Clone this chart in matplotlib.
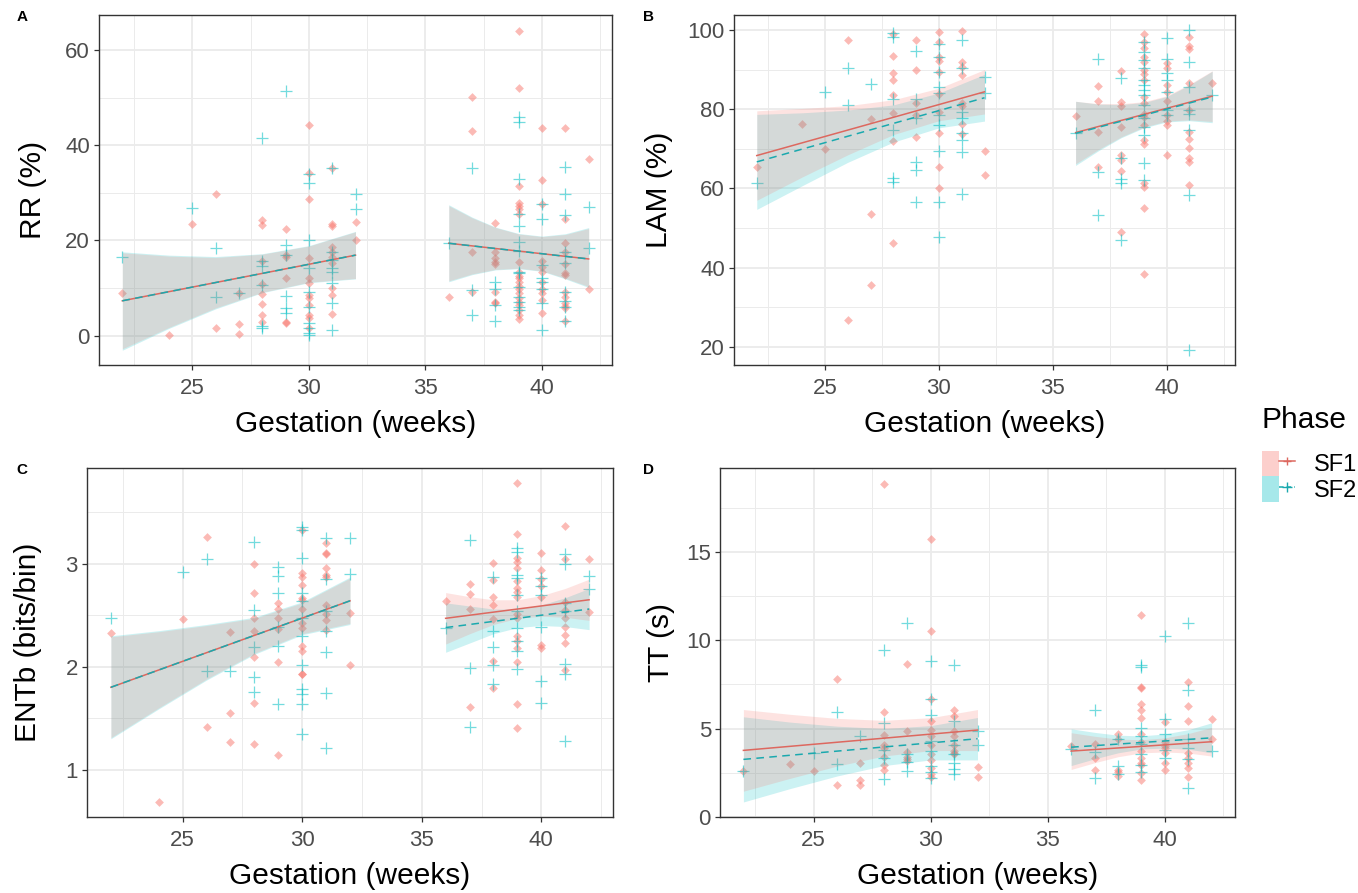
import numpy as np
import matplotlib
matplotlib.use("Agg")
import matplotlib.pyplot as plt
from matplotlib.lines import Line2D
from matplotlib.patches import Patch
from matplotlib.legend_handler import HandlerTuple
from matplotlib.ticker import MultipleLocator, AutoMinorLocator

RED = "#F8766D"
TEAL = "#00BFC4"
RED_LINE = "#DD685F"
TEAL_LINE = "#1AA9AE"

EARLY_WEEKS = [22, 24, 26, 28, 30, 32]
LATE_WEEKS = [36, 37, 38, 39, 40, 41, 42]

# ---- A: RR (%) ----
RR_SF1 = {22: [9.0], 24: [0.1], 25: [23.4], 26: [29.7, 1.5], 27: [8.9, 2.4, 0.3],
          28: [24.3, 23.2, 15.7, 10.8, 8.7, 6.6, 4.3, 2.9],
          29: [22.3, 16.9, 16.6, 12.0, 2.9, 2.6],
          30: [44.3, 34.2, 28.7, 16.4, 12.0, 11.0, 8.5, 7.8, 6.4, 4.3, 3.6, 1.5],
          31: [35.2, 23.4, 23.0, 18.7, 17.6, 16.6, 15.2, 9.9, 8.5, 4.5],
          32: [23.8, 20.0],
          36: [8.0], 37: [50.1, 43.1, 17.5, 9.1],
          38: [23.6, 17.5, 16.4, 15.5, 15.0, 9.1, 7.0, 6.8],
          39: [64.0, 52.1, 31.5, 27.8, 27.3, 26.7, 25.5, 15.5, 13.4, 12.6, 12.0, 11.3,
               10.5, 9.8, 8.9, 7.8, 7.0, 6.4, 5.4, 4.3, 3.5],
          40: [43.7, 32.7, 27.6, 15.7, 14.5, 13.4, 11.3, 9.8, 8.9, 7.5, 4.7],
          41: [43.7, 24.5, 19.5, 17.5, 15.0, 13.1, 12.7, 9.1, 8.0, 6.8, 6.3, 5.7, 3.1],
          42: [37.1, 9.8]}
RR_SF2 = {22: [16.6], 25: [26.9], 26: [18.5, 8.0], 27: [8.9],
          28: [41.5, 15.7, 14.7, 10.6, 1.9, 1.5],
          29: [51.4, 19.0, 16.9, 8.3, 5.7, 4.8],
          30: [33.9, 32.1, 20.1, 14.1, 9.2, 6.1, 2.6, 1.5, 0.5, 0.1],
          31: [35.2, 17.5, 15.9, 14.1, 13.4, 11.0, 6.8, 1.2],
          32: [29.7, 26.6],
          36: [19.4], 37: [35.3, 9.6, 4.3], 38: [11.3, 9.8, 6.4, 3.1],
          39: [45.9, 44.8, 33.0, 25.5, 23.1, 19.7, 17.8, 13.4, 13.1, 10.3, 8.2, 7.1, 6.1, 5.4],
          40: [27.6, 24.5, 14.8, 12.0, 11.3, 9.8, 6.8, 1.2],
          41: [35.5, 29.7, 25.3, 17.5, 15.2, 9.2, 7.3, 6.1, 3.1],
          42: [27.1, 18.5]}
# smooth: (fit, lower, upper)
RR_SF1_SMOOTH = {
    "early": ([7.3, 9.2, 11.1, 13.1, 15.0, 16.9],
              [-2.8, 1.7, 5.8, 9.1, 11.2, 12.0],
              [17.4, 16.7, 16.4, 17.1, 18.8, 21.8]),
    "late": ([19.4, 18.85, 18.3, 17.75, 17.2, 16.65, 16.1],
             [11.5, 12.95, 13.9, 14.15, 13.6, 12.05, 10.3],
             [27.3, 24.75, 22.7, 21.35, 20.8, 21.25, 22.5]),
}
RR_SF2_SMOOTH = {
    "early": ([7.3, 9.2, 11.1, 13.1, 15.0, 16.9],
              [-3.1, 1.5, 5.6, 9.0, 11.1, 11.9],
              [17.6, 16.9, 16.6, 17.2, 18.9, 21.9]),
    "late": ([19.4, 18.85, 18.3, 17.75, 17.2, 16.65, 16.1],
             [11.3, 12.8, 13.8, 14.05, 13.5, 11.9, 10.1],
             [27.5, 24.9, 22.8, 21.45, 20.9, 21.4, 22.7]),
}

# ---- B: LAM (%) ----
LAM_SF1 = {22: [65.5], 24: [76.2], 25: [69.9], 26: [97.5, 26.7], 27: [77.5, 53.5, 35.7],
           28: [98.9, 93.4, 89.1, 87.5, 83.7, 79.1, 72.0, 46.3],
           29: [97.5, 89.9, 81.5, 78.5, 73.1],
           30: [99.6, 96.9, 93.3, 92.3, 89.3, 83.8, 79.4, 73.9, 65.5, 60.0],
           31: [99.8, 92.0, 90.7, 88.6, 81.5, 80.9, 76.2, 73.7],
           32: [69.5, 63.4],
           36: [78.4], 37: [85.9, 82.1, 74.3, 65.5],
           38: [89.7, 81.7, 80.9, 75.6, 68.4, 67.2, 64.5, 49.1],
           39: [99.0, 97.1, 95.4, 93.3, 92.0, 89.9, 88.8, 87.4, 83.2, 81.5, 78.9, 78.1,
                76.0, 72.2, 71.1, 61.3, 60.4, 55.1, 38.3],
           40: [91.6, 90.5, 86.1, 84.4, 82.1, 78.5, 77.0, 76.0, 68.4],
           41: [98.3, 96.0, 95.1, 86.5, 79.8, 74.3, 72.5, 70.1, 67.6, 66.6, 60.8],
           42: [86.7]}
LAM_SF2 = {22: [61.3], 25: [84.3], 26: [90.3, 81.1], 27: [86.3],
           28: [99.2, 98.3, 82.7, 74.7, 62.7, 61.7],
           29: [94.7, 82.7, 77.7, 66.7, 64.6, 56.6],
           30: [96.6, 93.3, 89.5, 85.7, 84.0, 78.5, 76.0, 69.4, 56.6, 47.8],
           31: [97.5, 90.3, 79.4, 77.7, 73.9, 72.2, 69.3, 58.6],
           32: [88.2, 84.0],
           36: [74.1], 37: [92.8, 64.2, 53.3], 38: [87.8, 67.6, 62.5, 61.3, 47.0],
           39: [97.1, 94.5, 92.4, 90.3, 87.4, 86.1, 84.8, 83.6, 81.1, 77.7, 75.6, 73.5, 66.3, 62.1],
           40: [98.1, 92.8, 89.1, 87.4, 84.4, 79.8, 78.5],
           41: [100.0, 92.0, 85.7, 79.8, 78.9, 74.7, 58.3, 19.2],
           42: [83.6]}
LAM_SF1_SMOOTH = {
    "early": ([68.3, 71.5, 74.7, 78.0, 81.2, 84.4],
              [57.0, 62.9, 68.5, 73.6, 77.1, 78.8],
              [79.6, 80.2, 80.9, 82.4, 85.3, 90.0]),
    "late": ([74.1, 75.6, 77.2, 78.7, 80.2, 81.8, 83.3],
             [66.2, 69.8, 73.0, 75.5, 77.0, 77.3, 76.9],
             [82.0, 81.4, 81.4, 81.9, 83.4, 86.3, 89.7]),
}
LAM_SF2_SMOOTH = {
    "early": ([66.7, 69.9, 73.2, 76.4, 79.7, 82.9],
              [54.7, 60.7, 66.6, 71.7, 75.3, 77.0],
              [78.7, 79.1, 79.8, 81.1, 84.1, 88.8]),
    "late": ([73.9, 75.4, 77.0, 78.5, 80.0, 81.6, 83.1],
             [65.8, 69.5, 72.8, 75.3, 76.8, 77.1, 76.6],
             [82.0, 81.3, 81.2, 81.7, 83.2, 86.1, 89.6]),
}

# ---- C: ENTb (bits/bin) ----
ENT_SF1 = {22: [2.33], 24: [0.69], 25: [2.46], 26: [3.26, 1.41], 27: [2.34, 1.55, 1.27],
           28: [3.00, 2.72, 2.47, 2.35, 2.09, 1.65, 1.25],
           29: [2.62, 2.56, 2.47, 2.37, 2.05, 1.14],
           30: [3.33, 2.91, 2.87, 2.79, 2.67, 2.65, 2.56, 2.42, 2.38, 2.20, 2.15, 1.93, 1.93],
           31: [3.20, 3.10, 3.09, 2.96, 2.89, 2.87, 2.60, 2.51, 2.45, 2.36],
           32: [2.52, 2.02],
           36: [2.64], 37: [2.80, 2.71, 2.56, 1.61],
           38: [3.01, 2.84, 2.68, 2.60, 2.46, 2.06, 1.79],
           39: [3.78, 3.29, 3.06, 3.02, 2.96, 2.83, 2.76, 2.73, 2.68, 2.51, 2.47, 2.30,
                2.25, 2.18, 2.05, 1.64, 1.40],
           40: [3.10, 2.94, 2.85, 2.78, 2.68, 2.21, 2.18],
           41: [3.37, 3.05, 2.63, 2.55, 2.47, 2.39, 2.31, 2.23, 1.97],
           42: [3.05, 2.53]}
ENT_SF2 = {22: [2.47], 25: [2.92], 26: [3.05, 1.96], 27: [1.96],
           28: [3.21, 2.55, 2.19, 1.90, 1.75],
           29: [2.97, 2.88, 2.72, 2.39, 2.20, 1.64],
           30: [3.36, 3.33, 3.06, 2.72, 2.64, 2.47, 2.30, 2.02, 1.78, 1.73, 1.64, 1.35],
           31: [3.25, 2.85, 2.54, 2.35, 2.14, 1.74, 1.21],
           32: [3.25, 2.90],
           36: [2.38], 37: [3.23, 1.99, 1.41], 38: [2.87, 2.35, 2.19, 2.02, 1.83],
           39: [3.15, 3.11, 2.89, 2.86, 2.70, 2.54, 2.38, 2.25, 2.15, 1.98],
           40: [2.86, 2.78, 2.70, 2.39, 1.86, 1.65],
           41: [3.09, 3.00, 2.62, 2.54, 2.03, 1.93, 1.28],
           42: [2.88, 2.75]}
ENT_SF1_SMOOTH = {
    "early": ([1.80, 1.97, 2.14, 2.30, 2.47, 2.64],
              [1.31, 1.60, 1.88, 2.13, 2.32, 2.42],
              [2.29, 2.34, 2.40, 2.47, 2.62, 2.86]),
    "late": ([2.47, 2.50, 2.53, 2.56, 2.59, 2.62, 2.65],
             [2.22, 2.32, 2.41, 2.47, 2.49, 2.48, 2.45],
             [2.72, 2.68, 2.65, 2.65, 2.69, 2.76, 2.85]),
}
ENT_SF2_SMOOTH = {
    "early": ([1.80, 1.97, 2.14, 2.30, 2.47, 2.64],
              [1.30, 1.59, 1.87, 2.12, 2.31, 2.41],
              [2.30, 2.35, 2.41, 2.48, 2.63, 2.87]),
    "late": ([2.38, 2.41, 2.44, 2.47, 2.50, 2.53, 2.56],
             [2.14, 2.23, 2.32, 2.38, 2.40, 2.39, 2.36],
             [2.62, 2.59, 2.56, 2.56, 2.60, 2.67, 2.76]),
}

# ---- D: TT (s) ----
TT_SF1 = {22: [2.60], 24: [2.98], 25: [2.60], 26: [7.83, 1.79], 27: [3.07, 2.07, 1.79],
          28: [18.85, 5.95, 4.63, 4.07, 3.88, 3.41, 2.94, 2.66],
          29: [8.68, 4.86, 3.69, 3.39, 3.31, 3.16],
          30: [15.72, 10.51, 6.65, 5.46, 4.92, 4.58, 4.07, 3.54, 3.20, 2.79, 2.41, 2.26],
          31: [6.03, 5.71, 4.86, 4.58, 4.07, 3.73, 3.64, 3.54],
          32: [2.82, 2.28],
          36: [4.01], 37: [4.11, 3.35, 2.67], 38: [4.71, 4.39, 2.64, 2.56, 2.32],
          39: [11.41, 7.34, 7.31, 6.40, 6.08, 5.61, 4.67, 4.26, 3.73, 3.35, 3.07, 2.94, 2.50, 2.07],
          40: [5.39, 4.24, 4.01, 3.92, 3.63, 3.07, 2.64],
          41: [7.65, 6.27, 5.46, 3.63, 3.35, 3.07, 2.75, 2.26],
          42: [5.57, 4.43]}
TT_SF2 = {22: [2.60], 25: [3.63], 26: [5.95, 2.98], 27: [4.58],
          28: [9.47, 5.33, 3.77, 3.35, 2.13],
          29: [10.98, 3.54, 3.11, 2.60],
          30: [8.85, 6.65, 5.80, 4.29, 3.73, 2.88, 2.56, 2.22],
          31: [8.63, 5.42, 4.07, 3.54, 3.07, 2.69, 2.41],
          32: [4.86, 4.07],
          36: [3.82], 37: [6.05, 3.69, 2.22], 38: [4.39, 2.88, 2.41],
          39: [8.63, 8.47, 5.05, 4.58, 4.14, 3.54, 2.94, 2.56],
          40: [10.23, 5.52, 4.67, 3.77, 3.35],
          41: [10.98, 7.21, 4.39, 3.88, 3.31, 1.66],
          42: [3.73]}
TT_SF1_SMOOTH = {
    "early": ([3.77, 4.00, 4.23, 4.46, 4.69, 4.92],
              [1.46, 2.19, 2.88, 3.45, 3.76, 3.76],
              [6.08, 5.81, 5.58, 5.47, 5.62, 6.08]),
    "late": ([3.73, 3.82, 3.91, 4.00, 4.08, 4.17, 4.26],
             [2.69, 3.07, 3.41, 3.63, 3.68, 3.62, 3.45],
             [4.77, 4.57, 4.41, 4.37, 4.48, 4.72, 5.07]),
}
TT_SF2_SMOOTH = {
    "early": ([3.26, 3.49, 3.73, 3.96, 4.20, 4.43],
              [0.85, 1.61, 2.32, 2.91, 3.23, 3.23],
              [5.67, 5.37, 5.14, 5.01, 5.17, 5.63]),
    "late": ([3.95, 4.04, 4.13, 4.22, 4.30, 4.39, 4.48],
             [2.91, 3.29, 3.63, 3.85, 3.90, 3.84, 3.63],
             [4.99, 4.79, 4.63, 4.59, 4.70, 4.94, 5.33]),
}

PANELS = [
    ("A", "RR (%)", RR_SF1, RR_SF2, RR_SF1_SMOOTH, RR_SF2_SMOOTH, (-6.2, 67.4), 20),
    ("B", "LAM (%)", LAM_SF1, LAM_SF2, LAM_SF1_SMOOTH, LAM_SF2_SMOOTH, (15.4, 103.8), 20),
    ("C", "ENTb (bits/bin)", ENT_SF1, ENT_SF2, ENT_SF1_SMOOTH, ENT_SF2_SMOOTH, (0.54, 3.93), 1),
    ("D", "TT (s)", TT_SF1, TT_SF2, TT_SF1_SMOOTH, TT_SF2_SMOOTH, (0.0, 19.75), 5),
]

# axes rectangles in pixels: left, top, right, bottom
W, H = 1358, 893
BOXES = [(99, 15, 612, 365), (734, 15, 1235, 365), (87, 468, 613, 817), (720, 468, 1235, 817)]
LABEL_POS = [(22, 17), (648, 17), (22, 470), (648, 470)]
YLABEL_X = [33, 659, 28, 661]

plt.rcParams["font.family"] = ["Liberation Sans", "DejaVu Sans"]


def flatten(points):
    xs, ys = [], []
    for week, values in points.items():
        xs += [week] * len(values)
        ys += values
    return np.array(xs, float), np.array(ys, float)


fig = plt.figure(figsize=(W / 100, H / 100), dpi=100)

for (tag, ylabel, sf1, sf2, sm1, sm2, ylim, ystep), box, lpos, ylx in zip(
        PANELS, BOXES, LABEL_POS, YLABEL_X):
    l, t, r, b = box
    ax = fig.add_axes([l / W, 1 - b / H, (r - l) / W, (b - t) / H])

    x1, y1 = flatten(sf1)
    x2, y2 = flatten(sf2)
    ax.scatter(x1, y1, marker="D", s=20, color=RED, alpha=0.5, linewidths=0, zorder=2)
    ax.scatter(x2, y2, marker="+", s=65, color=TEAL, alpha=0.55, linewidths=0.9, zorder=2)

    # ribbons: teal first, pink on top gives the neutral grey overlap
    for smooth, fill in [(sm2, TEAL), (sm1, RED)]:
        for seg, weeks in [("early", EARLY_WEEKS), ("late", LATE_WEEKS)]:
            fit, lo, hi = smooth[seg]
            ax.fill_between(weeks, lo, hi, color=fill, alpha=0.2, linewidth=0, zorder=3)
    # fitted lines on top
    for smooth, lcolor, dashed in [(sm1, RED_LINE, False), (sm2, TEAL_LINE, True)]:
        for seg, weeks in [("early", EARLY_WEEKS), ("late", LATE_WEEKS)]:
            fit = smooth[seg][0]
            line, = ax.plot([weeks[0], weeks[-1]], [fit[0], fit[-1]], color=lcolor,
                            lw=1.1, zorder=4)
            if dashed:
                line.set_dashes((5, 3.5))

    ax.set_xlim(21, 43)
    ax.set_ylim(*ylim)
    ax.xaxis.set_major_locator(MultipleLocator(5))
    ax.xaxis.set_minor_locator(AutoMinorLocator(2))
    ax.yaxis.set_major_locator(MultipleLocator(ystep))
    ax.yaxis.set_minor_locator(AutoMinorLocator(2))
    ax.grid(which="major", color="#EBEBEB", lw=1.3, zorder=0)
    ax.grid(which="minor", color="#EBEBEB", lw=0.7, zorder=0)
    ax.set_axisbelow(True)
    for sp in ax.spines.values():
        sp.set_color("#333333")
        sp.set_linewidth(1.0)
    ax.tick_params(which="major", length=3.5, width=0.9, color="#333333",
                   labelsize=16, labelcolor="#4D4D4D")
    ax.tick_params(axis="x", which="major", pad=6)
    ax.tick_params(axis="y", which="major", pad=3)
    ax.tick_params(which="minor", length=0)
    ax.set_xlabel("Gestation (weeks)", fontsize=21.5, labelpad=8)
    ax.set_ylabel("")

    fig.text(lpos[0] / W, 1 - lpos[1] / H, tag, fontsize=11, fontweight="bold",
             ha="center", va="center")
    fig.text(ylx / W, 1 - ((t + b) / 2) / H, ylabel, fontsize=21.5, rotation=90,
             ha="center", va="center")

handles = [
    (Patch(facecolor=RED, alpha=0.35, edgecolor="none"),
     Line2D([], [], color=RED_LINE, lw=1.1, marker="+", markersize=6)),
    (Patch(facecolor=TEAL, alpha=0.35, edgecolor="none"),
     Line2D([], [], color=TEAL_LINE, lw=1.1, ls="--", dashes=(3, 2), marker="+", markersize=7)),
]
leg = fig.legend(handles, ["SF1", "SF2"], title="Phase",
                 handler_map={tuple: HandlerTuple(ndivide=None, pad=0)},
                 loc="upper left", bbox_to_anchor=(1262 / W, 1 - 406 / H),
                 frameon=False, fontsize=17, title_fontsize=21.5, alignment="left",
                 handlelength=1.4, handleheight=1.3, handletextpad=0.8,
                 labelspacing=0.0, borderaxespad=0, borderpad=0)
leg._legend_box.sep = 12

fig.savefig("out.png", dpi=100)
